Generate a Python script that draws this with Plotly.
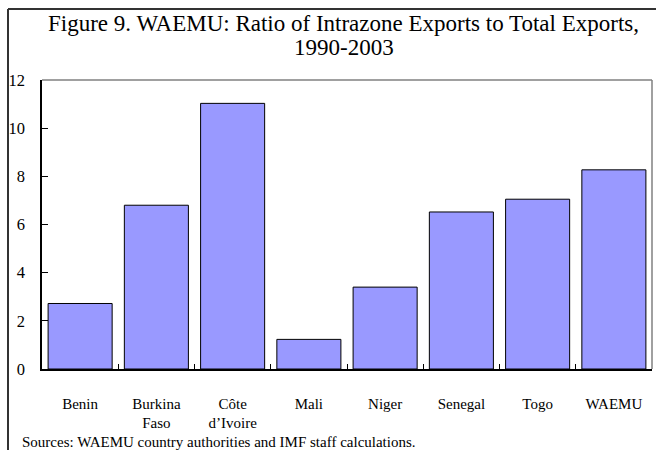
import plotly.graph_objects as go

categories = ["Benin", "Burkina<br>Faso", "Côte<br>d’Ivoire", "Mali", "Niger", "Senegal", "Togo", "WAEMU"]
values = [2.72, 6.80, 11.03, 1.23, 3.40, 6.52, 7.05, 8.27]
y_ticks = [0, 2, 4, 6, 8, 10, 12]

W, H = 656, 450
L, R, T, B = 42, 4, 80, 81
PW, PH = W - L - R, H - T - B

def px(x):
    return (x - L) / PW

def py(y):
    return (H - B - y) / PH

FONT = "Liberation Serif, Times New Roman, serif"

fig = go.Figure(go.Bar(
    x=categories, y=values,
    marker=dict(color="#9999FF", line=dict(color="#000000", width=1)),
))

fig.update_layout(
    width=W, height=H,
    margin=dict(l=L, r=R, t=T, b=B),
    paper_bgcolor="white", plot_bgcolor="white",
    bargap=0.16,
    showlegend=False,
    font=dict(family=FONT, size=15, color="black"),
    xaxis=dict(
        showline=True, linecolor="black", linewidth=1.5,
        ticks="inside", ticklen=5, tickcolor="black", tickson="boundaries",
        ticklabelstandoff=20,
        tickfont=dict(family=FONT, size=15),
        showgrid=False, zeroline=False,
    ),
    yaxis=dict(
        range=[0, 12], tickvals=y_ticks,
        showline=True, linecolor="black", linewidth=1.5,
        ticks="inside", ticklen=6, tickcolor="black",
        ticklabelstandoff=12,
        tickfont=dict(family=FONT, size=16.5),
        showgrid=False, zeroline=False,
    ),
    shapes=[
        dict(type="line", xref="paper", yref="paper", x0=0, x1=1, y0=1, y1=1,
             line=dict(color="#808080", width=1.5)),
        dict(type="line", xref="paper", yref="paper", x0=1, x1=1, y0=0, y1=1,
             line=dict(color="#808080", width=1.5)),
        dict(type="line", xref="paper", yref="paper", x0=px(8), x1=px(657), y0=py(9), y1=py(9),
             line=dict(color="#333333", width=2)),
        dict(type="line", xref="paper", yref="paper", x0=px(8), x1=px(8), y0=py(9), y1=py(452),
             line=dict(color="#333333", width=2)),
    ],
    annotations=[
        dict(text="Figure 9. WAEMU: Ratio of Intrazone Exports to Total Exports,",
             xref="paper", yref="paper", x=px(343), y=py(23),
             xanchor="center", yanchor="middle", showarrow=False,
             font=dict(family=FONT, size=23)),
        dict(text="1990-2003",
             xref="paper", yref="paper", x=px(344), y=py(47),
             xanchor="center", yanchor="middle", showarrow=False,
             font=dict(family=FONT, size=23)),
        dict(text="Sources: WAEMU country authorities and IMF staff calculations.",
             xref="paper", yref="paper", x=px(20), y=py(442),
             xanchor="left", yanchor="middle", showarrow=False,
             font=dict(family=FONT, size=15)),
    ],
)

fig.write_html("out.html", config={"displayModeBar": False},
               post_script="document.body.style.margin='0px';")
